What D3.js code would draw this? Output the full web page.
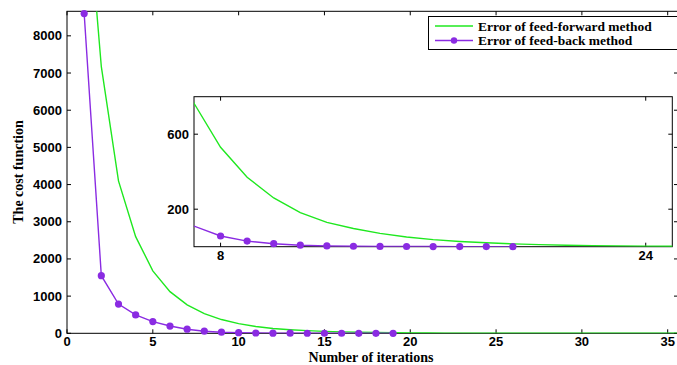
<!DOCTYPE html>
<html>
<head>
<meta charset="utf-8">
<script src="https://cdn.jsdelivr.net/npm/d3@7"></script>
<style>
  body { margin: 0; background: #fff; }
  svg { display: block; }
</style>
</head>
<body>
<div id="plot"></div>
<script>
// iterations and error values
const iterFF = d3.range(1, 37);
const errorFF = [12700, 7170, 4100, 2600, 1680, 1120, 765, 530, 370, 260, 182, 130, 97, 71, 52, 38, 28, 21, 15, 11,
  8, 6, 4.5, 3.3, 2.5, 1.8, 1.3, 1, 0.8, 0.6, 0.5, 0.4, 0.3, 0.25, 0.2, 0.15];
const iterFB = d3.range(1, 20);
const errorFB = [8600, 1550, 785, 495, 315, 195, 110, 57, 30, 16, 8, 4, 2.5, 1.5, 1, 0.8, 0.6, 0.5, 0.4];

const xTicks = [0, 5, 10, 15, 20, 25, 30, 35];
const yTicks = [0, 1000, 2000, 3000, 4000, 5000, 6000, 7000, 8000];
const insetXTicks = [8, 24];
const insetYTicks = [200, 600];
const seriesNames = ["Error of feed-forward method", "Error of feed-back method"];

const width = 677, height = 365;
const green = "#1fe81f", purple = "#8a2be2";
const tickFont = "'Liberation Sans', Arial, sans-serif";
const labelFont = "'Liberation Serif', 'Times New Roman', serif";

const svg = d3.select("#plot").append("svg")
  .attr("width", width)
  .attr("height", height);

const ffData = iterFF.map((x, i) => [x, errorFF[i]]);
const fbData = iterFB.map((x, i) => [x, errorFB[i]]);

// main axes
const x = d3.scaleLinear().domain([0, 35.6]).range([67, 678]);
const y = d3.scaleLinear().domain([0, 8660]).range([333.3, 11.3]);

svg.append("clipPath").attr("id", "clipMain")
  .append("rect")
  .attr("x", x.range()[0]).attr("y", y.range()[1])
  .attr("width", x.range()[1] - x.range()[0])
  .attr("height", y.range()[0] - y.range()[1]);

function drawAxes(g, xs, ys, xt, yt) {
  const [x0, x1] = xs.range();
  const [y0, y1] = ys.range();
  const tl = 4;
  // frame
  g.append("rect")
    .attr("x", x0).attr("y", y1)
    .attr("width", x1 - x0).attr("height", y0 - y1)
    .attr("fill", "#fff")
    .attr("stroke", "#000").attr("stroke-width", 1);
  const ticks = g.append("g").attr("stroke", "#000").attr("stroke-width", 1);
  xt.forEach(function(t) {
    ticks.append("line").attr("x1", xs(t)).attr("x2", xs(t)).attr("y1", y0).attr("y2", y0 - tl);
    ticks.append("line").attr("x1", xs(t)).attr("x2", xs(t)).attr("y1", y1).attr("y2", y1 + tl);
  });
  yt.forEach(function(t) {
    ticks.append("line").attr("x1", x0).attr("x2", x0 + tl).attr("y1", ys(t)).attr("y2", ys(t));
    ticks.append("line").attr("x1", x1).attr("x2", x1 - tl).attr("y1", ys(t)).attr("y2", ys(t));
  });
  g.selectAll(".xl").data(xt).join("text")
    .attr("x", d => xs(d)).attr("y", y0 + 13)
    .attr("text-anchor", "middle")
    .style("font-family", tickFont).style("font-weight", "bold").style("font-size", "13px")
    .text(d => d);
  g.selectAll(".yl").data(yt).join("text")
    .attr("x", x0 - 5).attr("y", d => ys(d) + 4.5)
    .attr("text-anchor", "end")
    .style("font-family", tickFont).style("font-weight", "bold").style("font-size", "13px")
    .text(d => d);
}

function drawSeries(g, xs, ys, clipId, markerMin) {
  const line = d3.line().x(d => xs(d[0])).y(d => ys(d[1]));
  const plot = g.append("g").attr("clip-path", `url(#${clipId})`);
  plot.append("path").datum(ffData)
    .attr("d", line).attr("fill", "none")
    .attr("stroke", green).attr("stroke-width", 1.4);
  plot.append("path").datum(fbData)
    .attr("d", line).attr("fill", "none")
    .attr("stroke", purple).attr("stroke-width", 1.4);
  g.append("g").selectAll("circle")
    .data(fbData.filter(d => d[0] > markerMin))
    .join("circle")
    .attr("cx", d => xs(d[0])).attr("cy", d => ys(d[1]))
    .attr("r", 3.6).attr("fill", purple);
}

const main = svg.append("g");
drawAxes(main, x, y, xTicks, yTicks);
drawSeries(main, x, y, "clipMain", 0);

// axis labels
svg.append("text")
  .attr("x", 371).attr("y", 362)
  .attr("text-anchor", "middle")
  .style("font-family", labelFont).style("font-weight", "bold").style("font-size", "14px")
  .text("Number of iterations");
svg.append("text")
  .attr("transform", "translate(23,172) rotate(-90)")
  .attr("text-anchor", "middle")
  .style("font-family", labelFont).style("font-weight", "bold").style("font-size", "14px")
  .text("The cost function");

// inset zoom
const xi = d3.scaleLinear().domain([7, 25]).range([194, 672.3]);
const yi = d3.scaleLinear().domain([0, 800]).range([246.7, 96.7]);
svg.append("clipPath").attr("id", "clipInset")
  .append("rect")
  .attr("x", xi.range()[0]).attr("y", yi.range()[1])
  .attr("width", xi.range()[1] - xi.range()[0])
  .attr("height", yi.range()[0] - yi.range()[1]);
const inset = svg.append("g");
drawAxes(inset, xi, yi, insetXTicks, insetYTicks);
drawSeries(inset, xi, yi, "clipInset", 7);

// legend
const legend = svg.append("g");
legend.append("rect")
  .attr("x", 428.5).attr("y", 16.5)
  .attr("width", 260).attr("height", 33)
  .attr("fill", "#fff").attr("stroke", "#000").attr("stroke-width", 1);
seriesNames.forEach(function(name, i) {
  const ly = 26 + i * 14.5;
  legend.append("line")
    .attr("x1", 435).attr("x2", 473).attr("y1", ly).attr("y2", ly)
    .attr("stroke", i === 0 ? green : purple).attr("stroke-width", 1.4);
  if (i === 1) {
    legend.append("circle").attr("cx", 454).attr("cy", ly).attr("r", 3.2).attr("fill", purple);
  }
  legend.append("text")
    .attr("x", 478).attr("y", ly + 4.5)
    .style("font-family", labelFont).style("font-weight", "bold").style("font-size", "13.5px")
    .text(name);
});
</script>
</body>
</html>
